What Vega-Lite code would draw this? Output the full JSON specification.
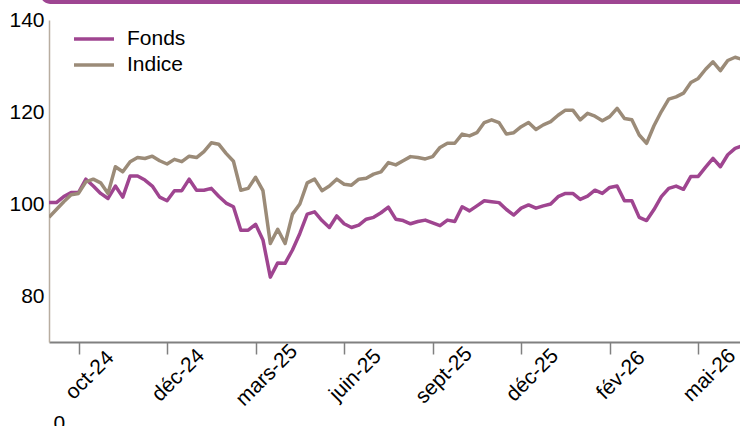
{
  "$schema": "https://vega.github.io/schema/vega-lite/v6.json",
  "width": 691,
  "height": 322,
  "autosize": {"type": "none"},
  "padding": {"left": 49, "top": 20, "right": 0, "bottom": 84},
  "background": "white",
  "config": {"view": {"stroke": null}, "font": "Liberation Sans"},
  "layer": [
    {
      "data": {"values": [{}]},
      "mark": {"type": "rect", "color": "#9e4592", "cornerRadius": 10, "clip": false},
      "encoding": {
        "x": {"datum": -1.2, "type": "quantitative"},
        "x2": {"datum": 95},
        "y": {"datum": 143.5, "type": "quantitative"},
        "y2": {"datum": 152}
      }
    },
    {
      "data": {"values": [
        {"i":0,"Fonds":100.3,"Indice":97.1},{"i":1,"Fonds":100.3,"Indice":98.8},{"i":2,"Fonds":101.6,"Indice":100.5},{"i":3,"Fonds":102.5,"Indice":102},{"i":4,"Fonds":102.5,"Indice":102.3},
        {"i":5,"Fonds":105.4,"Indice":104.8},{"i":6,"Fonds":103.9,"Indice":105.4},{"i":7,"Fonds":102.3,"Indice":104.6},{"i":8,"Fonds":101.2,"Indice":102.3},{"i":9,"Fonds":103.9,"Indice":108.1},
        {"i":10,"Fonds":101.5,"Indice":107},{"i":11,"Fonds":106.1,"Indice":109.2},{"i":12,"Fonds":106.1,"Indice":110.1},{"i":13,"Fonds":105.2,"Indice":109.9},{"i":14,"Fonds":103.9,"Indice":110.4},
        {"i":15,"Fonds":101.5,"Indice":109.4},{"i":16,"Fonds":100.7,"Indice":108.7},{"i":17,"Fonds":102.9,"Indice":109.7},{"i":18,"Fonds":102.9,"Indice":109.2},{"i":19,"Fonds":105.4,"Indice":110.4},
        {"i":20,"Fonds":103,"Indice":110.1},{"i":21,"Fonds":103,"Indice":111.4},{"i":22,"Fonds":103.4,"Indice":113.3},{"i":23,"Fonds":101.7,"Indice":113},{"i":24,"Fonds":100.2,"Indice":111},
        {"i":25,"Fonds":99.4,"Indice":109.3},{"i":26,"Fonds":94.3,"Indice":103},{"i":27,"Fonds":94.3,"Indice":103.4},{"i":28,"Fonds":95.6,"Indice":105.8},{"i":29,"Fonds":92.2,"Indice":102.9},
        {"i":30,"Fonds":84.1,"Indice":91.4},{"i":31,"Fonds":87.2,"Indice":94.5},{"i":32,"Fonds":87.1,"Indice":91.4},{"i":33,"Fonds":90,"Indice":97.8},{"i":34,"Fonds":93.6,"Indice":100},
        {"i":35,"Fonds":97.8,"Indice":104.6},{"i":36,"Fonds":98.3,"Indice":105.4},{"i":37,"Fonds":96.4,"Indice":102.9},{"i":38,"Fonds":94.9,"Indice":103.9},{"i":39,"Fonds":97.4,"Indice":105.4},
        {"i":40,"Fonds":95.7,"Indice":104.3},{"i":41,"Fonds":94.9,"Indice":104.1},{"i":42,"Fonds":95.4,"Indice":105.4},{"i":43,"Fonds":96.7,"Indice":105.6},{"i":44,"Fonds":97.1,"Indice":106.5},
        {"i":45,"Fonds":98.1,"Indice":107},{"i":46,"Fonds":99.3,"Indice":109},{"i":47,"Fonds":96.7,"Indice":108.5},{"i":48,"Fonds":96.4,"Indice":109.4},{"i":49,"Fonds":95.7,"Indice":110.3},
        {"i":50,"Fonds":96.2,"Indice":110.1},{"i":51,"Fonds":96.5,"Indice":109.8},{"i":52,"Fonds":95.9,"Indice":110.3},{"i":53,"Fonds":95.3,"Indice":112.3},{"i":54,"Fonds":96.5,"Indice":113.2},
        {"i":55,"Fonds":96.2,"Indice":113.2},{"i":56,"Fonds":99.4,"Indice":115.2},{"i":57,"Fonds":98.5,"Indice":114.8},{"i":58,"Fonds":99.6,"Indice":115.5},{"i":59,"Fonds":100.7,"Indice":117.7},
        {"i":60,"Fonds":100.5,"Indice":118.3},{"i":61,"Fonds":100.3,"Indice":117.7},{"i":62,"Fonds":98.8,"Indice":115.2},{"i":63,"Fonds":97.6,"Indice":115.5},{"i":64,"Fonds":99.1,"Indice":116.8},
        {"i":65,"Fonds":99.8,"Indice":117.7},{"i":66,"Fonds":99.1,"Indice":116.2},{"i":67,"Fonds":99.6,"Indice":117.2},{"i":68,"Fonds":100,"Indice":117.9},{"i":69,"Fonds":101.6,"Indice":119.3},
        {"i":70,"Fonds":102.3,"Indice":120.4},{"i":71,"Fonds":102.3,"Indice":120.4},{"i":72,"Fonds":101,"Indice":118.3},{"i":73,"Fonds":101.7,"Indice":119.7},{"i":74,"Fonds":103,"Indice":119.1},
        {"i":75,"Fonds":102.3,"Indice":118.1},{"i":76,"Fonds":103.6,"Indice":119},{"i":77,"Fonds":103.9,"Indice":120.8},{"i":78,"Fonds":100.7,"Indice":118.6},{"i":79,"Fonds":100.7,"Indice":118.3},
        {"i":80,"Fonds":97.1,"Indice":115},{"i":81,"Fonds":96.4,"Indice":113.2},{"i":82,"Fonds":98.8,"Indice":117},{"i":83,"Fonds":101.6,"Indice":120.1},{"i":84,"Fonds":103.4,"Indice":122.8},
        {"i":85,"Fonds":103.9,"Indice":123.3},{"i":86,"Fonds":103.2,"Indice":124.1},{"i":87,"Fonds":106,"Indice":126.4},{"i":88,"Fonds":106,"Indice":127.3},{"i":89,"Fonds":108,"Indice":129.3},
        {"i":90,"Fonds":109.9,"Indice":130.9},{"i":91,"Fonds":108.1,"Indice":129},{"i":92,"Fonds":110.7,"Indice":131.2},{"i":93,"Fonds":112.1,"Indice":131.9},{"i":94,"Fonds":112.7,"Indice":131.4}
      ]},
      "transform": [{"fold": ["Fonds", "Indice"], "as": ["s", "v"]}],
      "mark": {"type": "line", "strokeWidth": 3.5, "clip": true, "strokeJoin": "round"},
      "encoding": {
        "x": {
          "field": "i", "type": "quantitative",
          "scale": {"domain": [0, 93.66], "nice": false, "zero": false},
          "axis": {
            "values": [4, 16, 28, 40, 52, 64, 76, 88],
            "labelExpr": "['oct-24','déc-24','mars-25','juin-25','sept-25','déc-25','fév-26','mai-26'][(datum.value-4)/12]",
            "labelAngle": -45, "labelAlign": "center", "labelBaseline": "middle",
            "labelOffset": 11, "labelPadding": 21, "labelFlush": false, "labelOverlap": false,
            "labelFontSize": 21, "labelColor": "#000000",
            "tickSize": 12, "tickColor": "#808080", "tickWidth": 1.5,
            "domainColor": "#808080", "domainWidth": 2, "grid": false,
            "title": "0", "titleAnchor": "start", "titleAlign": "left", "titleBaseline": "top",
            "titleX": 4, "titleY": 70, "titleFontSize": 21, "titleFontWeight": "normal", "titleColor": "#000000"
          }
        },
        "y": {
          "field": "v", "type": "quantitative",
          "scale": {"domain": [70, 140], "nice": false, "zero": false},
          "axis": {
            "values": [80, 100, 120, 140], "ticks": false, "grid": false,
            "domainColor": "#b8ada0", "domainWidth": 1.5,
            "labelFontSize": 21, "labelPadding": 5, "labelColor": "#000000", "labelFlush": false,
            "title": null
          }
        },
        "color": {
          "field": "s", "type": "nominal",
          "scale": {"domain": ["Fonds", "Indice"], "range": ["#9f4590", "#9b8b78"]},
          "legend": {
            "orient": "none", "legendX": 33, "legendY": 7, "title": null,
            "symbolType": "M-2,0H2", "symbolSize": 400, "symbolStrokeWidth": 3.5,
            "symbolFillColor": "transparent",
            "labelFontSize": 21, "labelOffset": 21, "labelColor": "#000000", "rowPadding": 4
          }
        }
      }
    }
  ]
}
